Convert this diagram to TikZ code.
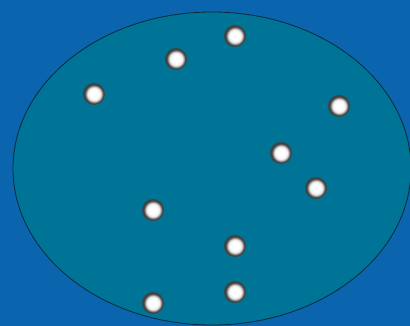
\documentclass[tikz,border=0pt]{standalone}
\usepackage{xcolor}
\usepackage{tikz}
\usetikzlibrary{shapes.geometric}
\definecolor{bgBlue}{HTML}{0A64AE}
\definecolor{fieldTeal}{HTML}{007496}
\definecolor{rimDark}{HTML}{0B2A3A}
\pgfdeclareradialshading{pebbleglow}{\pgfpoint{0bp}{0bp}}{%
  color(0bp)=(white); color(9bp)=(white); color(15bp)=(white!85!gray);
  color(21bp)=(gray!55!black); color(25bp)=(black!75); color(50bp)=(black!75)}

\begin{document}
\begin{tikzpicture}[x=1pt, y=-1pt,
  field/.style={draw=rimDark, thick, ellipse, fill=fieldTeal, minimum width=398pt, minimum height=313pt, inner sep=0pt},
  pebble/.style={circle, minimum size=22pt, inner sep=0pt, shading=pebbleglow}]
\fill[bgBlue] (0,0) rectangle (410,326);
\useasboundingbox (0,0) rectangle (410,326);
\node[field] (fld) at (212,168.5) {};
\foreach \n/\x/\y in {p1/235/36, p2/176/59, p3/94/94, p4/339/106, p5/281/153,
                      p6/316/188, p7/153/210, p8/235/246, p9/235/292, p10/153/303}
  \node[pebble] (\n) at (\x,\y) {};
\end{tikzpicture}
\end{document}
